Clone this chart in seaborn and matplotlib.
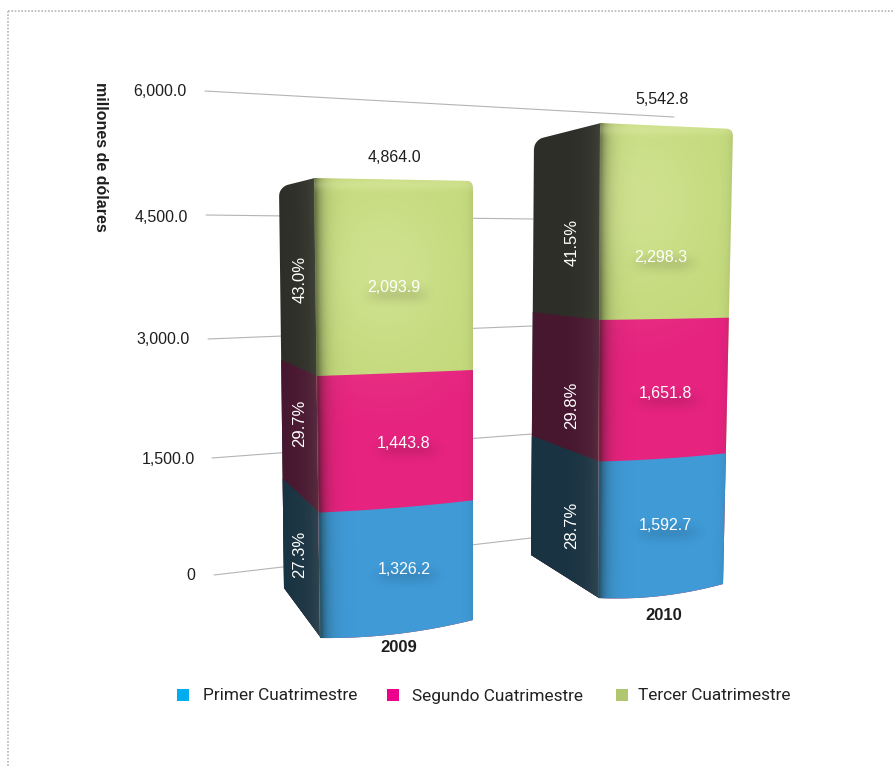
# Ingresos por cuatrimestre 2009-2010, barras apiladas con aspecto 3D

import numpy as np
import matplotlib
matplotlib.use('Agg')
import matplotlib.pyplot as plt
from matplotlib.path import Path
from matplotlib.transforms import Transform, IdentityTransform
import seaborn as sns

# Datos
anios = ['2009', '2010']
cuatrimestres = ['Primer Cuatrimestre', 'Segundo Cuatrimestre', 'Tercer Cuatrimestre']
primer = [1326.2, 1592.7]
segundo = [1443.8, 1651.8]
tercer = [2093.9, 2298.3]
totales = ['4,864.0', '5,542.8']
pct_primer = ['27.3%', '28.7%']
pct_segundo = ['29.7%', '29.8%']
pct_tercer = ['43.0%', '41.5%']
ticks = ['0', '1,500.0', '3,000.0', '4,500.0', '6,000.0']

# Colores
col_frente = ['#3f9ad6', '#e6237f', '#c3d97b']
col_lado = ['#1a3342', '#47172f', '#2c2e27']
col_leyenda = ['#00aeef', '#ec008c', '#b0c770']

W, H = 893, 766

# Esquinas en pixeles: arriba-izq, arriba-der, abajo-izq, abajo-der
frente_px = [((314, 178), (473, 181), (320, 638), (473, 620)),
             ((600, 123), (733, 129), (598, 598), (723, 584))]
lado_px = [((279, 187), (315, 178), (284, 588), (321, 638)),
           ((534, 140), (601, 123), (531, 555), (599, 598))]


class Cara(Transform):
    # Lleva una barra (x, valor) a una cara en perspectiva, en pixeles
    input_dims = 2
    output_dims = 2

    def __init__(self, esquinas, total, x0, ancho, sag=5, r_izq=0, r_der=0):
        super().__init__()
        self.esquinas = np.array(esquinas, dtype=float)
        self.total = total
        self.x0 = x0
        self.ancho = ancho
        self.sag = sag
        self.r_izq = r_izq
        self.r_der = r_der

    def transform_non_affine(self, values):
        values = np.asarray(values, dtype=float)
        u = (values[:, 0] - self.x0) / self.ancho
        t = values[:, 1] / self.total
        a, b, c, d = self.esquinas
        izq = c + (a - c) * t[:, None]
        der = d + (b - d) * t[:, None]
        p = izq + (der - izq) * u[:, None]
        # borde inferior curvo
        p[:, 1] += self.sag * (1 - t) ** 4 * 4 * u * (1 - u)
        # esquinas superiores redondeadas
        arriba = t > 0.9995
        for r, dist in ((self.r_izq, u), (self.r_der, 1 - u)):
            if r > 0:
                anchura = r / abs(b[0] - a[0])
                k = np.clip(1 - dist / anchura, 0, 1)
                p[:, 1] += arriba * r * (1 - np.sqrt(1 - k ** 2))
        p[:, 1] = H - p[:, 1]
        return p

    def transform_path_non_affine(self, path):
        v = path.interpolated(150).vertices
        return Path(self.transform_non_affine(v))


def ruta_px(barra, cara):
    return cara.transform_path_non_affine(barra.get_path().transformed(barra.get_patch_transform()))


def capa(ax, caja, ruta, rgb, alfa):
    x0, x1, y0, y1 = caja
    arr = np.zeros(alfa.shape + (4,))
    arr[..., :3] = rgb
    arr[..., 3] = np.clip(alfa, 0, 1)
    im = ax.imshow(arr, extent=(x0, x1, y1, y0), aspect='auto', interpolation='bilinear')
    if ruta is not None:
        im.set_clip_path(ruta, IdentityTransform())


sns.set_theme(style='white')
plt.rcParams['font.family'] = ['Liberation Sans', 'DejaVu Sans']

fig = plt.figure(figsize=(W / 100, H / 100), dpi=100)

# Capa de fondo: marco punteado y lineas de la escala
ax_fondo = fig.add_axes([0, 0, 1, 1], zorder=0)
ax_fondo.set_xlim(0, W)
ax_fondo.set_ylim(H, 0)
ax_fondo.axis('off')

ax_fondo.plot([8, 8], [11, H], color='#b5b5b5', lw=1.2, ls=(0, (1, 1)))
ax_fondo.plot([8, W], [11, 11], color='#b5b5b5', lw=1.2, ls=(0, (1, 1)))

guias = [((214, 575), (531, 538)), ((212, 458), (532, 434)), ((208, 339), (532, 326)),
         ((206, 215), (533, 219)), ((205, 91), (674, 117))]
for g in guias:
    ax_fondo.plot([g[0][0], g[1][0]], [g[0][1], g[1][1]], color='#b4b4b8', lw=0.8)

# Barras: acumulados, de mayor a menor, dibujadas con seaborn
ax_barras = fig.add_axes([0, 0, 1, 1], zorder=1)
ax_barras.patch.set_alpha(0)
ax_barras.axis('off')

acum = np.cumsum([primer, segundo, tercer], axis=0)
tot = acum[-1]

caras_frente = []
caras_lado = []
for j in [2, 1, 0]:
    # lado
    n = len(ax_barras.patches)
    sns.barplot(x=anios, y=acum[j], color=col_lado[j], saturation=1, linewidth=0, ax=ax_barras)
    for i, barra in enumerate(ax_barras.patches[n:]):
        cara = Cara(lado_px[i], tot[i], barra.get_x(), barra.get_width(), sag=0, r_izq=9)
        barra.set_transform(cara)
        barra.set_clip_on(False)
        if j == 2:
            caras_lado.append(ruta_px(barra, cara))
for j in [2, 1, 0]:
    # frente
    n = len(ax_barras.patches)
    sns.barplot(x=anios, y=acum[j], color=col_frente[j], saturation=1, linewidth=0, ax=ax_barras)
    for i, barra in enumerate(ax_barras.patches[n:]):
        cara = Cara(frente_px[i], tot[i], barra.get_x(), barra.get_width(), sag=5, r_der=6)
        barra.set_transform(cara)
        barra.set_clip_on(False)
        if j == 2:
            caras_frente.append(ruta_px(barra, cara))

# Capa superior: sombreado, textos y leyenda
ax_top = fig.add_axes([0, 0, 1, 1], zorder=2)
ax_top.patch.set_alpha(0)
ax_top.axis('off')

centros_verde = [(385, 270), (640, 200)]
for i in range(2):
    f = np.array(frente_px[i], dtype=float)
    l = np.array(lado_px[i], dtype=float)
    caja = (l[:, 0].min() - 2, f[:, 0].max() + 2, f[:, 1].min() - 4, f[:, 1].max() + 6)
    X, Y = np.meshgrid(np.arange(caja[0], caja[1]), np.arange(caja[2], caja[3]))
    s = np.clip((Y - f[0, 1]) / (f[2, 1] - f[0, 1]), 0, 1)
    borde_izq = f[0, 0] + (f[2, 0] - f[0, 0]) * s
    borde_der = f[1, 0] + (f[3, 0] - f[1, 0]) * s
    d_izq = np.clip(X - borde_izq, 0, None)
    d_der = np.clip(borde_der - X, 0, None)

    # sombra junto a la arista y en el lado derecho
    oscuro = 0.60 * np.exp(-d_izq / 7) + 0.10 * np.exp(-d_der / 4)
    capa(ax_top, caja, caras_frente[i], (0.05, 0.07, 0.03), oscuro)

    # brillo en la parte verde
    cx, cy = centros_verde[i]
    brillo = 0.20 * np.exp(-((X - cx) / 70) ** 2 - ((Y - cy) / 90) ** 2)
    brillo += 0.16 * np.exp(-(Y - (f[0, 1] + 6)) ** 2 / 30)
    capa(ax_top, caja, caras_frente[i], (1, 1, 0.85), brillo)

    # el lado se aclara hacia la arista
    d_lado = np.clip(borde_izq - X, 0, None)
    aclara = 0.10 * np.exp(-d_lado / 12)
    capa(ax_top, caja, caras_lado[i], (1, 1, 0.9), aclara)

# Valores y porcentajes dentro de las barras
val_pos = [[(404, 569), (665, 526)], [(404, 443), (665, 394)], [(394, 288), (661, 257)]]
pct_pos = [[(300, 554), (572, 525)], [(300, 423), (572, 405)], [(300, 279), (572, 242)]]
for j, (vals, pcts) in enumerate([(primer, pct_primer), (segundo, pct_segundo), (tercer, pct_tercer)]):
    for i in range(2):
        x, y = val_pos[j][i]
        # sombra suave bajo el numero
        caja = (x - 50, x + 56, y - 16, y + 26)
        X, Y = np.meshgrid(np.arange(caja[0], caja[1]), np.arange(caja[2], caja[3]))
        capa(ax_top, caja, None, (0, 0, 0), 0.10 * np.exp(-((X - x - 3) / 29) ** 4 - ((Y - y - 6) / 8) ** 2))
        ax_top.text(x, y, f'{vals[i]:,.1f}', ha='center', va='center', fontsize=11.5, color='white')
        x, y = pct_pos[j][i]
        ax_top.text(x, y, pcts[i], rotation=90, ha='center', va='center', fontsize=12, color='white')

ax_top.set_xlim(0, W)
ax_top.set_ylim(H, 0)

# Escala
ticks_pos = [(195, 576), (195, 459), (190, 340), (188, 217), (187, 92)]
for t, (x, y) in zip(ticks, ticks_pos):
    ax_top.text(x, y, t, ha='right', va='center', fontsize=11.5, color='#1e1e1e')

ax_top.text(100, 157, 'millones de dólares', rotation=270, ha='center', va='center',
            fontsize=11.5, fontweight='bold', color='#1e1e1e')

# Totales y anios
for t, (x, y) in zip(totales, [(394, 157), (662, 99)]):
    ax_top.text(x, y, t, ha='center', va='center', fontsize=11.5, color='#1e1e1e')
for t, (x, y) in zip(anios, [(399, 648), (664, 616)]):
    ax_top.text(x, y, t, ha='center', va='center', fontsize=12, fontweight='bold', color='#1e1e1e')

# Leyenda
ley_cuadro = [177, 387, 616]
ley_texto = [203, 412, 638]
for c, nombre, xc, xt in zip(col_leyenda, cuatrimestres, ley_cuadro, ley_texto):
    ax_top.fill([xc, xc + 12, xc + 12, xc], [689, 689, 701, 701], color=c, lw=0)
    ax_top.text(xt, 696, nombre, ha='left', va='center', fontsize=12.4, color='#222222', family='Roboto')

fig.savefig('out.png', dpi=100)
